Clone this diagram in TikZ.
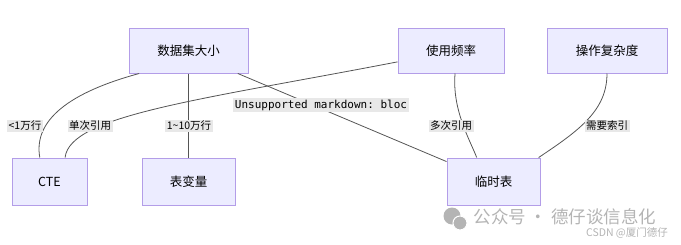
\documentclass[tikz,border=0pt]{standalone}
\usepackage{fontspec}
\setmainfont{Noto Sans CJK SC}
\setmonofont{DejaVu Sans Mono}

\definecolor{boxfill}{HTML}{ECECFF}
\definecolor{boxline}{HTML}{B39DE8}
\definecolor{edgeline}{HTML}{555555}
\definecolor{lblfill}{HTML}{E8E8E8}
\definecolor{wmark}{HTML}{B4B4B4}

\begin{document}
\begin{tikzpicture}[x=1pt, y=-1pt,
  box/.style={draw=boxline, fill=boxfill, line width=1pt, inner sep=0pt,
    font=\fontsize{12.5}{14}\selectfont},
  edge/.style={draw=edgeline, line width=0.8pt},
  lbl/.style={fill=lblfill, inner sep=1.5pt, font=\fontsize{10.5}{12}\selectfont}]
  \useasboundingbox (0,0) rectangle (681,244);

  % 上层节点
  \node[box, minimum width=119pt, minimum height=45pt] (dsz) at (188.5,50.5) {数据集大小};
  \node[box, minimum width=106pt, minimum height=45pt] (syp) at (451,50.5) {使用频率};
  \node[box, minimum width=120pt, minimum height=45pt] (czf) at (607,50.5) {操作复杂度};

  % 下层节点
  \node[box, minimum width=75pt, minimum height=47pt] (cte) at (49.5,181.5) {CTE};
  \node[box, minimum width=93pt, minimum height=47pt] (bbl) at (188.5,181.5) {表变量};
  \node[box, minimum width=93pt, minimum height=47pt] (lsb) at (493.5,181.5) {临时表};

  % 连线
  \draw[edge] (dsz.205) .. controls (60,95) and (34,125) .. (cte.112);
  \draw[edge] (dsz.south) -- (bbl.north);
  \draw[edge] (dsz.-25) -- (lsb.157);
  \draw[edge] (syp.192) .. controls (200,100) and (70,115) .. (cte.57);
  \draw[edge] (syp.-80) .. controls (452,110) and (470,140) .. (lsb.125);
  \draw[edge] (czf.south) .. controls (607,110) and (580,130) .. (lsb.28);

  % 连线标注
  \node[lbl] (l1) at (25,126) {<1万行};
  \node[lbl] (l2) at (189,126) {1\textasciitilde10万行};
  \node[lbl, font=\ttfamily\fontsize{11}{12}\selectfont] (l3) at (321,105) {Unsupported markdown: bloc};
  \node[lbl] (l4) at (90,126) {单次引用};
  \node[lbl] (l5) at (451,126) {多次引用};
  \node[lbl] (l6) at (607,126) {需要索引};

  % 水印
  \fill[wmark] (452,216) circle (8.5);
  \fill[wmark, draw=white, line width=1pt] (460,223) circle (7);
  \node[text=wmark, font=\fontsize{17.5}{20}\selectfont] (wm1) at (565,217) {公众号 · 德仔谈信息化};
  \node[text=wmark, font=\fontsize{10.5}{12}\selectfont] (wm2) at (627,233) {CSDN @厦门德仔};
\end{tikzpicture}
\end{document}
